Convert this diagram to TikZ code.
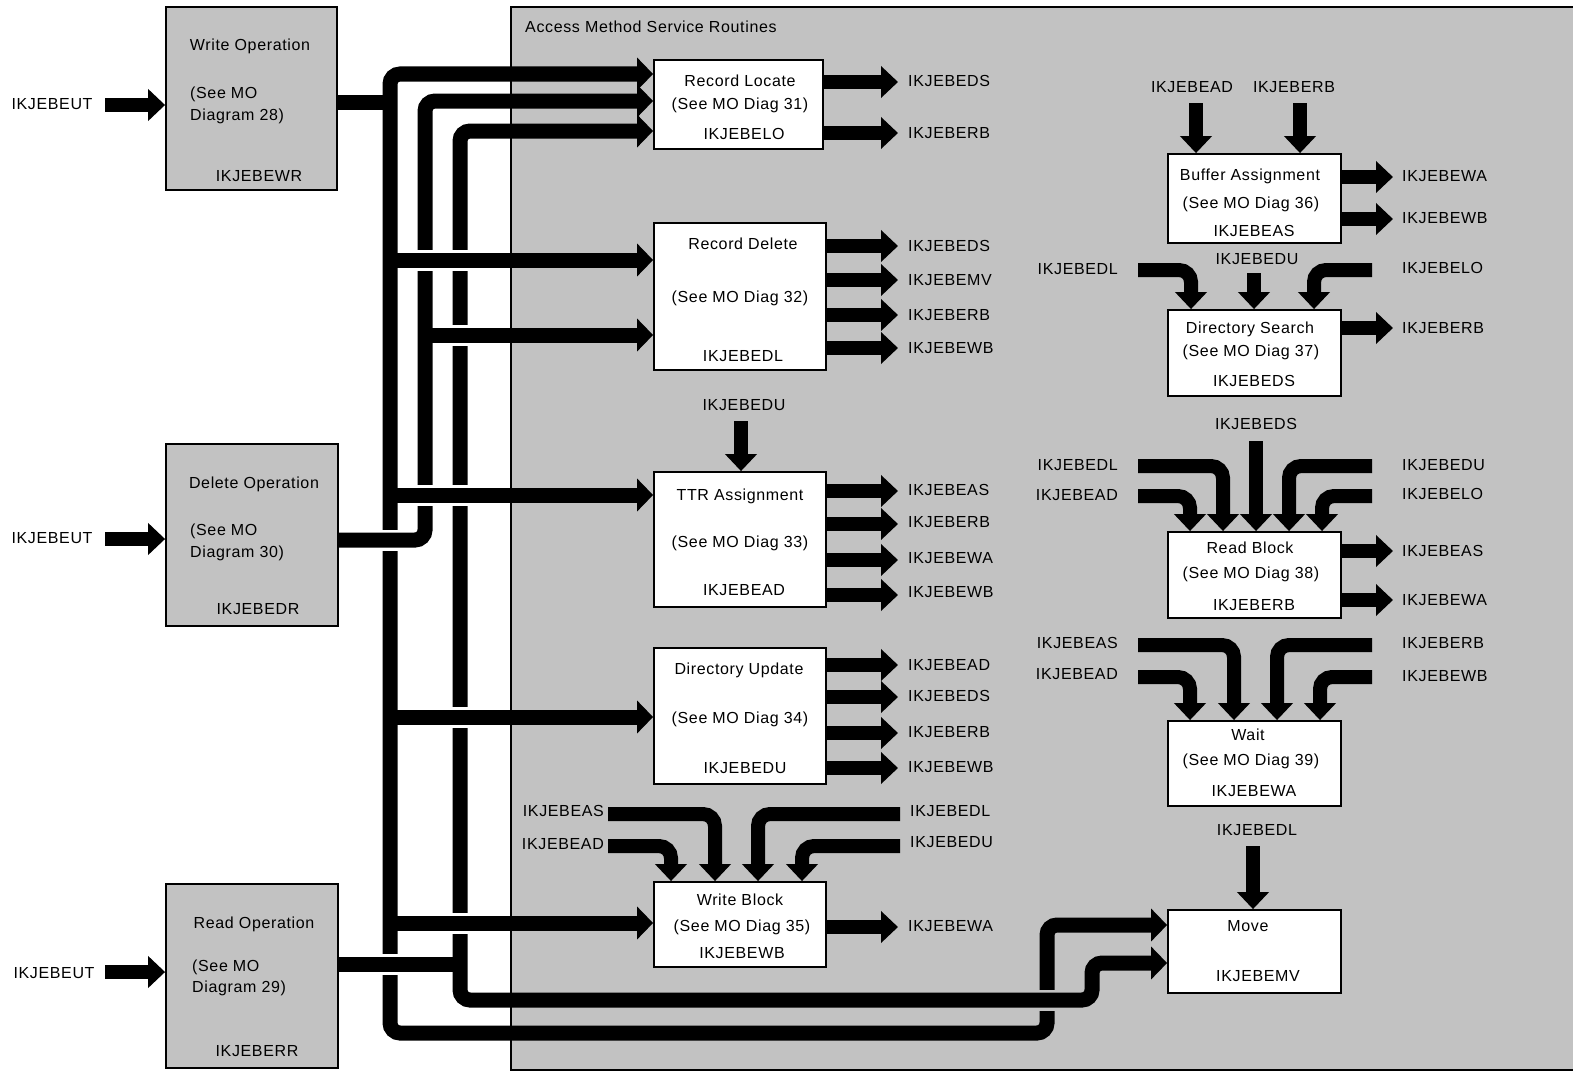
\documentclass[tikz,border=0pt]{standalone}
\usepackage{fontspec}
\setmainfont{Liberation Sans}[LetterSpace=4]
\usetikzlibrary{arrows.meta}
\definecolor{bg}{gray}{0.76}
\begin{document}
\begin{tikzpicture}[x=1pt,y=-1pt,
  wbox/.style={draw, line width=1.8pt, fill=white, inner sep=0pt},
  gbox/.style={draw, line width=1.8pt, fill=bg, inner sep=0pt},
  lbl/.style={font=\fontsize{16}{19}\selectfont, inner sep=0pt, anchor=mid, yshift=-2.5pt},
  lw/.style={lbl, anchor=mid west},
  le/.style={lbl, anchor=mid east},
  bus/.style={line width=15pt, rounded corners=10pt},
  busarr/.style={bus, -{Triangle[length=16pt,width=32pt]}},
  busboth/.style={bus, {Triangle[length=16pt,width=32pt]}-{Triangle[length=16pt,width=32pt]}},
  fat/.style={line width=14pt, rounded corners=12pt, -{Triangle[length=17pt,width=31pt]}},
  halow/.style={white, line width=21pt},
  halog/.style={bg, line width=21pt}]
\useasboundingbox (0,0) rectangle (1573,1073);
\fill[white] (0,0) rectangle (1573,1073);
% shaded service area
\fill[bg] (511,7) rectangle (1573,1070);
\draw[line width=1.2pt] (1573,7) -- (511,7) -- (511,1070) -- (1573,1070);
\node[lw] (title) at (525,27) {Access Method Service Routines};

% left operation boxes
\node[gbox, minimum width=171pt, minimum height=183pt] (wo) at (251.5,98.5) {};
\node[gbox, minimum width=172pt, minimum height=182pt] (do) at (252,535) {};
\node[gbox, minimum width=172pt, minimum height=184pt] (ro) at (252,976) {};
\node[lbl] (wo1) at (250,45) {Write Operation};
\node[lw] (wo2) at (190,93) {(See MO};
\node[lw] (wo3) at (190,115) {Diagram 28)};
\node[lbl] (wo4) at (259,176) {IKJEBEWR};
\node[lbl] (do1) at (254,483) {Delete Operation};
\node[lw] (do2) at (190,530) {(See MO};
\node[lw] (do3) at (190,552) {Diagram 30)};
\node[lbl] (do4) at (258,609) {IKJEBEDR};
\node[lbl] (ro1) at (254,923) {Read Operation};
\node[lw] (ro2) at (192,966) {(See MO};
\node[lw] (ro3) at (192,987) {Diagram 29)};
\node[lbl] (ro4) at (257,1051) {IKJEBERR};

% IKJEBEUT inputs
\node[lbl] (ut1) at (52,104) {IKJEBEUT};
\node[lbl] (ut2) at (52,538) {IKJEBEUT};
\node[lbl] (ut3) at (54,973) {IKJEBEUT};
\draw[fat] (105,105) -- (wo.west |- 0,105);
\draw[fat] (105,539) -- (do.west |- 0,539);
\draw[fat] (105,972) -- (ro.west |- 0,972);

% service boxes, left column
\node[wbox, minimum width=169pt, minimum height=89pt] (rl) at (738.5,104.5) {};
\node[wbox, minimum width=172pt, minimum height=147pt] (rd) at (740,296.5) {};
\node[wbox, minimum width=172pt, minimum height=135pt] (ttr) at (740,539.5) {};
\node[wbox, minimum width=172pt, minimum height=136pt] (du) at (740,716) {};
\node[wbox, minimum width=172pt, minimum height=85pt] (wb) at (740,924.5) {};
% right column
\node[wbox, minimum width=173pt, minimum height=89pt] (ba) at (1254.5,198.5) {};
\node[wbox, minimum width=173pt, minimum height=86pt] (ds) at (1254.5,353) {};
\node[wbox, minimum width=173pt, minimum height=86pt] (rb) at (1254.5,575) {};
\node[wbox, minimum width=173pt, minimum height=85pt] (wt) at (1254.5,763.5) {};
\node[wbox, minimum width=173pt, minimum height=83pt] (mv) at (1254.5,951.5) {};

% box texts
\node[lbl] (rl1) at (740,81) {Record Locate};
\node[lbl] (rl2) at (740,104) {(See MO Diag 31)};
\node[lbl] (rl3) at (744,134) {IKJEBELO};
\node[lbl] (rd1) at (743,244) {Record Delete};
\node[lbl] (rd2) at (740,297) {(See MO Diag 32)};
\node[lbl] (rd3) at (743,356) {IKJEBEDL};
\node[lbl] (tt1) at (740,495) {TTR Assignment};
\node[lbl] (tt2) at (740,542) {(See MO Diag 33)};
\node[lbl] (tt3) at (744,590) {IKJEBEAD};
\node[lbl] (du1) at (739,669) {Directory Update};
\node[lbl] (du2) at (740,718) {(See MO Diag 34)};
\node[lbl] (du3) at (745,768) {IKJEBEDU};
\node[lbl] (wb1) at (740,900) {Write Block};
\node[lbl] (wb2) at (742,926) {(See MO Diag 35)};
\node[lbl] (wb3) at (742,953) {IKJEBEWB};
\node[lbl] (ba1) at (1250,175) {Buffer Assignment};
\node[lbl] (ba2) at (1251,203) {(See MO Diag 36)};
\node[lbl] (ba3) at (1254,231) {IKJEBEAS};
\node[lbl] (ds1) at (1250,328) {Directory Search};
\node[lbl] (ds2) at (1251,351) {(See MO Diag 37)};
\node[lbl] (ds3) at (1254,381) {IKJEBEDS};
\node[lbl] (rb1) at (1250,548) {Read Block};
\node[lbl] (rb2) at (1251,573) {(See MO Diag 38)};
\node[lbl] (rb3) at (1254,605) {IKJEBERB};
\node[lbl] (wt1) at (1248,735) {Wait};
\node[lbl] (wt2) at (1251,760) {(See MO Diag 39)};
\node[lbl] (wt3) at (1254,791) {IKJEBEWA};
\node[lbl] (mv1) at (1248,926) {Move};
\node[lbl] (mv2) at (1258,976) {IKJEBEMV};

% ---------- bus lines ----------
% line A
\draw[busboth] (rl.west |- 0,74) -- (390,74) -- (390,1033) -- (1047,1033) -- (1047,925) -- (mv.west |- 0,925);
\draw[bus] (wo.east |- 0,102) -- (390,102);
% line B
\draw[halow] (378,540) -- (402,540);
\draw[busarr] (do.east |- 0,540) -- (425,540) -- (425,101) -- (rl.west |- 0,101);
% line C
\draw[halow] (378,964) -- (402,964);
\draw[halog] (1030,1000) -- (1064,1000);
\draw[busboth] (rl.west |- 0,131) -- (460,131) -- (460,1000) -- (1092,1000) -- (1092,963) -- (mv.west |- 0,963);
\draw[bus] (ro.east |- 0,964) -- (460,964);
% branches
\draw[halow] (440,335) -- (476,335);
\draw[busarr] (425,335) -- (rd.west |- 0,335);
\draw[halow] (400,260) -- (476,260);
\draw[busarr] (390,260) -- (rd.west |- 0,260);
\draw[halow] (400,495) -- (476,495);
\draw[busarr] (390,495) -- (ttr.west |- 0,495);
\draw[halow] (440,717) -- (476,717);
\draw[busarr] (390,717) -- (du.west |- 0,717);
\draw[halow] (440,923) -- (476,923);
\draw[busarr] (390,923) -- (wb.west |- 0,923);

% ---------- outputs, left column ----------
\node[lw] (o1) at (908,81) {IKJEBEDS};
\node[lw] (o2) at (908,133) {IKJEBERB};
\draw[fat] (rl.east |- 0,82) -- (898,82);
\draw[fat] (rl.east |- 0,133) -- (898,133);
\node[lw] (o3) at (908,246) {IKJEBEDS};
\node[lw] (o4) at (908,280) {IKJEBEMV};
\node[lw] (o5) at (908,315) {IKJEBERB};
\node[lw] (o6) at (908,348) {IKJEBEWB};
\draw[fat] (rd.east |- 0,246) -- (898,246);
\draw[fat] (rd.east |- 0,280) -- (898,280);
\draw[fat] (rd.east |- 0,315) -- (898,315);
\draw[fat] (rd.east |- 0,348) -- (898,348);
\node[lw] (o7) at (908,490) {IKJEBEAS};
\node[lw] (o8) at (908,522) {IKJEBERB};
\node[lw] (o9) at (908,558) {IKJEBEWA};
\node[lw] (o10) at (908,592) {IKJEBEWB};
\draw[fat] (ttr.east |- 0,491) -- (898,491);
\draw[fat] (ttr.east |- 0,524) -- (898,524);
\draw[fat] (ttr.east |- 0,560) -- (898,560);
\draw[fat] (ttr.east |- 0,595) -- (898,595);
\node[lw] (o11) at (908,665) {IKJEBEAD};
\node[lw] (o12) at (908,696) {IKJEBEDS};
\node[lw] (o13) at (908,732) {IKJEBERB};
\node[lw] (o14) at (908,767) {IKJEBEWB};
\draw[fat] (du.east |- 0,665) -- (898,665);
\draw[fat] (du.east |- 0,697) -- (898,697);
\draw[fat] (du.east |- 0,733) -- (898,733);
\draw[fat] (du.east |- 0,768) -- (898,768);
\node[lw] (o15) at (908,926) {IKJEBEWA};
\draw[fat] (wb.east |- 0,927) -- (898,927);

% ---------- outputs, right column ----------
\node[lw] (p1) at (1402,176) {IKJEBEWA};
\node[lw] (p2) at (1402,218) {IKJEBEWB};
\draw[fat] (ba.east |- 0,177) -- (1393,177);
\draw[fat] (ba.east |- 0,219) -- (1393,219);
\node[lw] (p3) at (1402,328) {IKJEBERB};
\draw[fat] (ds.east |- 0,328) -- (1393,328);
\node[lw] (p4) at (1402,551) {IKJEBEAS};
\node[lw] (p5) at (1402,600) {IKJEBEWA};
\draw[fat] (rb.east |- 0,551) -- (1393,551);
\draw[fat] (rb.east |- 0,600) -- (1393,600);

% ---------- inputs ----------
% TTR
\node[lbl] (i1) at (744,405) {IKJEBEDU};
\draw[fat] (741,421) -- (ttr.north -| 741,0);
% Buffer Assignment
\node[lbl] (i2) at (1192,87) {IKJEBEAD};
\node[lbl] (i3) at (1294,87) {IKJEBERB};
\draw[fat] (1196,103) -- (ba.north -| 1196,0);
\draw[fat] (1300,103) -- (ba.north -| 1300,0);
% Directory Search
\node[lbl] (i4) at (1257,259) {IKJEBEDU};
\node[le] (i5) at (1118,269) {IKJEBEDL};
\node[lw] (i6) at (1402,268) {IKJEBELO};
\draw[fat] (1254,273) -- (ds.north -| 1254,0);
\draw[fat] (1138,270) -- (1191,270) -- (ds.north -| 1191,0);
\draw[fat] (1372,270) -- (1314,270) -- (ds.north -| 1314,0);
% Read Block
\node[lbl] (i7) at (1256,424) {IKJEBEDS};
\node[le] (i8) at (1118,465) {IKJEBEDL};
\node[le] (i9) at (1118,495) {IKJEBEAD};
\node[lw] (i10) at (1402,465) {IKJEBEDU};
\node[lw] (i11) at (1402,494) {IKJEBELO};
\draw[fat] (1256,441) -- (rb.north -| 1256,0);
\draw[fat] (1138,466) -- (1223,466) -- (rb.north -| 1223,0);
\draw[fat] (1138,496) -- (1190,496) -- (rb.north -| 1190,0);
\draw[fat] (1372,466) -- (1289,466) -- (rb.north -| 1289,0);
\draw[fat] (1372,496) -- (1322,496) -- (rb.north -| 1322,0);
% Wait
\node[le] (i12) at (1118,643) {IKJEBEAS};
\node[le] (i13) at (1118,674) {IKJEBEAD};
\node[lw] (i14) at (1402,643) {IKJEBERB};
\node[lw] (i15) at (1402,676) {IKJEBEWB};
\draw[fat] (1138,645) -- (1234,645) -- (wt.north -| 1234,0);
\draw[fat] (1138,677) -- (1190,677) -- (wt.north -| 1190,0);
\draw[fat] (1372,645) -- (1277,645) -- (wt.north -| 1277,0);
\draw[fat] (1372,677) -- (1320,677) -- (wt.north -| 1320,0);
% Write Block
\node[le] (i16) at (604,811) {IKJEBEAS};
\node[le] (i17) at (604,844) {IKJEBEAD};
\node[lw] (i18) at (910,811) {IKJEBEDL};
\node[lw] (i19) at (910,842) {IKJEBEDU};
\draw[fat] (608,814) -- (715,814) -- (wb.north -| 715,0);
\draw[fat] (608,846) -- (671,846) -- (wb.north -| 671,0);
\draw[fat] (900,814) -- (758,814) -- (wb.north -| 758,0);
\draw[fat] (900,846) -- (802,846) -- (wb.north -| 802,0);
% Move
\node[lbl] (i20) at (1257,830) {IKJEBEDL};
\draw[fat] (1253,846) -- (mv.north -| 1253,0);
\end{tikzpicture}
\end{document}
